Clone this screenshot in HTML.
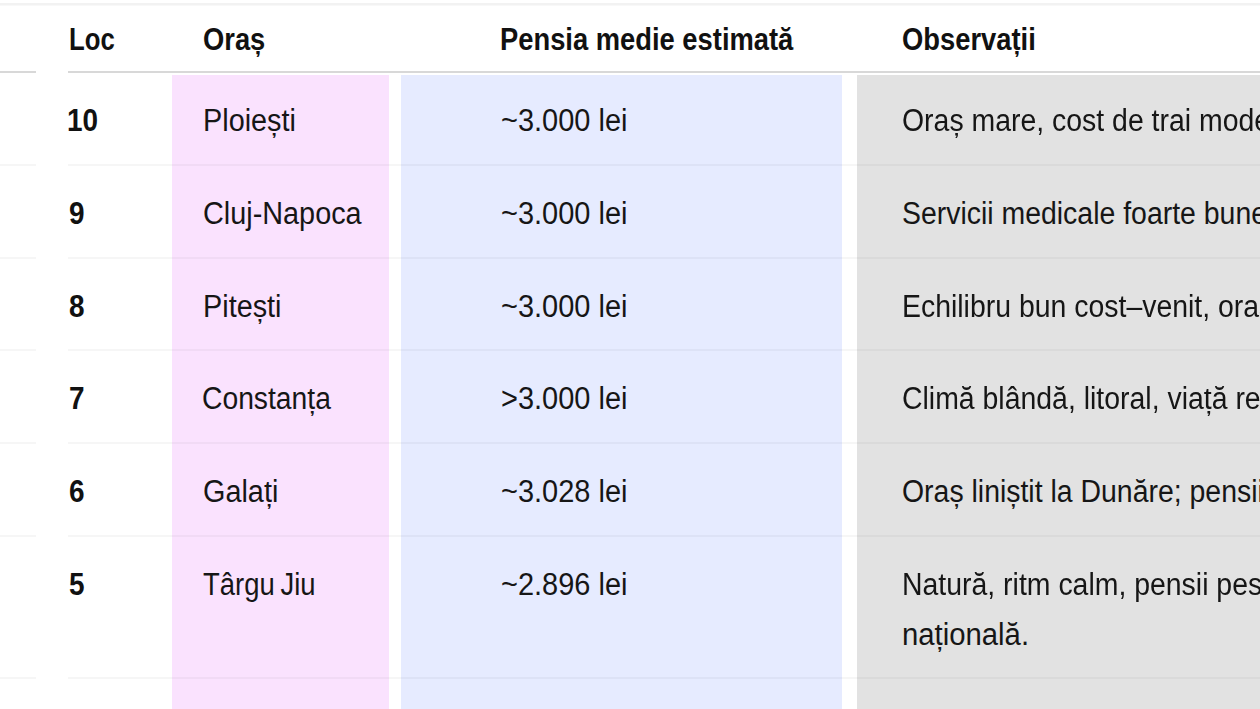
<!DOCTYPE html>
<html lang="ro">
<head>
<meta charset="utf-8">
<title>Top orașe pentru pensionari</title>
<style>
  html, body { margin: 0; padding: 0; }
  html { width: 1260px; height: 709px; overflow: hidden; background: #ffffff; }
  body {
    width: 1260px; height: 709px; overflow: hidden; position: relative;
    background: #ffffff;
    font-family: "Liberation Sans", sans-serif;
    color: #161616;
  }
  #clip { position: absolute; top: 0; left: 0; width: 1260px; height: 709px; overflow: hidden; background: #ffffff; }
  #wrap { position: absolute; top: -10px; left: -10px; width: 1280px; height: 729px; background: #ffffff; filter: blur(0.45px); }
  #page { position: absolute; top: 10px; left: 10px; width: 1260px; height: 709px; }
  .col { position: absolute; top: 75px; bottom: -10px; }
  .c-pink { left: 172px; width: 217px; background: #fae2fe; }
  .c-blue { left: 401px; width: 441px; background: #e6ebff; }
  .c-gray { left: 857px; right: -10px; background: #e2e2e2; }
  .hl { position: absolute; left: -10px; right: -10px; height: 2px; }
  .topline { top: 3px; height: 2px; background: #f2f2f2; box-shadow: 0 1px 0 #f8f8f8; }
  .hline { position: absolute; height: 2px; background: #d8d8d8; top: 71px; }
  .rline { position: absolute; height: 2px; background: rgba(0,0,0,0.036); }
  .t { position: absolute; white-space: nowrap; font-size: 31px; line-height: 50px; transform: scaleX(0.94); transform-origin: 0 0; }
  .th { font-weight: bold; color: #111; transform: scaleX(0.882); }
  .city { transform: scaleX(0.93); }
  .pen { transform: scaleX(0.935); }
  .obs { transform: scaleX(0.917); }
  .loc { font-weight: bold; color: #111; transform: scaleX(0.9); }
</style>
</head>
<body>
<div id="clip"><div id="wrap"><div id="page">
  <!-- column highlight backgrounds -->
  <div class="col c-pink"></div>
  <div class="col c-blue"></div>
  <div class="col c-gray"></div>

  <!-- table rules -->
  <div class="hl topline"></div>
  <div class="hline" style="left:-10px;width:46px"></div>
  <div class="hline" style="left:68px;right:-10px"></div>

  <div class="rline" style="top:164px;left:-10px;width:46px"></div><div class="rline" style="top:164px;left:68px;right:-10px"></div>
  <div class="rline" style="top:257px;left:-10px;width:46px"></div><div class="rline" style="top:257px;left:68px;right:-10px"></div>
  <div class="rline" style="top:349px;left:-10px;width:46px"></div><div class="rline" style="top:349px;left:68px;right:-10px"></div>
  <div class="rline" style="top:442px;left:-10px;width:46px"></div><div class="rline" style="top:442px;left:68px;right:-10px"></div>
  <div class="rline" style="top:535px;left:-10px;width:46px"></div><div class="rline" style="top:535px;left:68px;right:-10px"></div>
  <div class="rline" style="top:677px;left:-10px;width:46px"></div><div class="rline" style="top:677px;left:68px;right:-10px"></div>

  <!-- header -->
  <div class="t th" style="top:14.9px;left:69px;transform:scaleX(0.83)">Loc</div>
  <div class="t th" style="top:14.9px;left:203px">Oraș</div>
  <div class="t th" style="top:14.9px;left:500px">Pensia medie estimată</div>
  <div class="t th" style="top:14.9px;left:902px">Observații</div>

  <!-- row 1 -->
  <div class="t loc" style="top:96px;left:67px">10</div>
  <div class="t city" style="top:96px;left:203px">Ploiești</div>
  <div class="t pen" style="top:96px;left:501px">~3.000 lei</div>
  <div class="t obs" style="top:96px;left:902px">Oraș mare, cost de trai moderat</div>

  <!-- row 2 -->
  <div class="t loc" style="top:188.8px;left:69px">9</div>
  <div class="t city" style="top:188.8px;left:203px">Cluj-Napoca</div>
  <div class="t pen" style="top:188.8px;left:501px">~3.000 lei</div>
  <div class="t obs" style="top:188.8px;left:902px">Servicii medicale foarte bune</div>

  <!-- row 3 -->
  <div class="t loc" style="top:281.5px;left:69px">8</div>
  <div class="t city" style="top:281.5px;left:203px">Pitești</div>
  <div class="t pen" style="top:281.5px;left:501px">~3.000 lei</div>
  <div class="t obs" style="top:281.5px;left:902px">Echilibru bun cost–venit, oraș</div>

  <!-- row 4 -->
  <div class="t loc" style="top:374.3px;left:69px">7</div>
  <div class="t city" style="top:374.3px;left:202px;transform:scaleX(0.912)">Constanța</div>
  <div class="t pen" style="top:374.3px;left:501px">&gt;3.000 lei</div>
  <div class="t obs" style="top:374.3px;left:902px">Climă blândă, litoral, viață relaxată</div>

  <!-- row 5 -->
  <div class="t loc" style="top:467px;left:69px">6</div>
  <div class="t city" style="top:467px;left:203px">Galați</div>
  <div class="t pen" style="top:467px;left:501px">~3.028 lei</div>
  <div class="t obs" style="top:467px;left:902px">Oraș liniștit la Dunăre; pensii</div>

  <!-- row 6 -->
  <div class="t loc" style="top:559.8px;left:69px">5</div>
  <div class="t city" style="top:559.8px;left:203px;transform:scaleX(0.885);word-spacing:-2px">Târgu Jiu</div>
  <div class="t pen" style="top:559.8px;left:501px">~2.896 lei</div>
  <div class="t obs" style="top:559.8px;left:902px">Natură, ritm calm, pensii peste media</div>
  <div class="t obs" style="top:609.8px;left:902px;transform:scaleX(0.945)">națională.</div>
</div></div></div>
</body>
</html>
